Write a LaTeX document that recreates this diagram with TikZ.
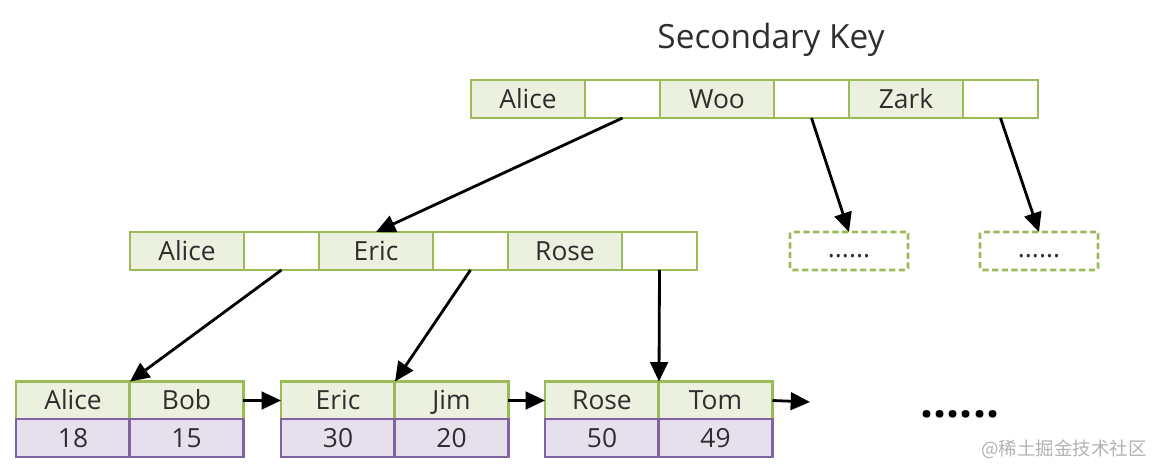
\documentclass[tikz,border=0pt]{standalone}
\usepackage{fontspec}
\setmainfont{Open Sans}
\newfontfamily\cjk{Noto Sans CJK SC}
\usepackage{tikz}
\usetikzlibrary{arrows.meta}

\definecolor{keyline}{HTML}{9BBB59}
\definecolor{keyfill}{HTML}{EBF1DE}
\definecolor{valline}{HTML}{8064A2}
\definecolor{valfill}{HTML}{E6E0EC}
\definecolor{inktext}{HTML}{2E2E2E}

\tikzset{
  cell/.style={rectangle, line width=1.6pt, inner sep=0pt, outer sep=0pt,
    minimum height=0.76cm, text height=10.7pt, text depth=0pt,
    text=inktext, font=\fontsize{15}{15}\selectfont},
  keycell/.style={cell, draw=keyline, fill=keyfill, minimum width=2.28cm},
  ptrcell/.style={cell, draw=keyline, fill=white, minimum width=1.5cm},
  valcell/.style={cell, draw=valline, fill=valfill, minimum width=2.28cm},
  morebox/.style={cell, draw=keyline, dashed, dash pattern=on 3.5pt off 2pt,
    line width=1.5pt, rounded corners=1pt, minimum width=2.36cm, text height=7pt},
  link/.style={-{Triangle[length=11pt,width=10pt]}, line width=1.6pt, black}
}

\begin{document}
\begin{tikzpicture}[x=0.02cm, y=-0.02cm]
\useasboundingbox (0,0) rectangle (1153,465);

%================ TITLE ==================
\node[text=inktext, font=\fontsize{19}{19}\selectfont] (title) at (771,40) {Secondary Key};

%================ ROOT ==================
\node[keycell] (rA)  at (528,99)    {Alice};
\node[ptrcell] (rAp) at (622.5,99)  {};
\node[keycell] (rW)  at (717,99)    {Woo};
\node[ptrcell] (rWp) at (811.5,99)  {};
\node[keycell] (rZ)  at (906,99)    {Zark};
\node[ptrcell] (rZp) at (1000.5,99) {};

%================ INNER ==================
\node[keycell] (iA)  at (187,251)   {Alice};
\node[ptrcell] (iAp) at (281.5,251) {};
\node[keycell] (iE)  at (376,251)   {Eric};
\node[ptrcell] (iEp) at (470.5,251) {};
\node[keycell] (iR)  at (565,251)   {Rose};
\node[ptrcell] (iRp) at (659.5,251) {};

% elided subtrees
\node[morebox] (moreW) at (849,251)  {......};
\node[morebox] (moreZ) at (1039,251) {......};

%================ LEAVES ==================
\node[keycell] (lAlice) at (73,400.5)  {Alice};
\node[keycell] (lBob)   at (186.5,400.5) {Bob};
\node[valcell] (vAlice) at (73,438)    {18};
\node[valcell] (vBob)   at (186.5,438) {15};

\node[keycell] (lEric)  at (338,400.5)   {Eric};
\node[keycell] (lJim)   at (451.5,400.5) {Jim};
\node[valcell] (vEric)  at (338,438)     {30};
\node[valcell] (vJim)   at (451.5,438)   {20};

\node[keycell] (lRose)  at (602,400.5)   {Rose};
\node[keycell] (lTom)   at (715.5,400.5) {Tom};
\node[valcell] (vRose)  at (602,438)     {50};
\node[valcell] (vTom)   at (715.5,438)   {49};

\coordinate (lnext) at (810,402);
\node[font=\fontsize{26}{26}\selectfont\bfseries] (dots) at (960,414) {......};

%================ ARROWS ==================
\draw[link] (rAp.south) -- (iE.north);
\draw[link] (rWp.south) -- (moreW.north);
\draw[link] (rZp.south) -- (moreZ.north);

\draw[link] (iAp.south) -- (lAlice.north east);
\draw[link] (iEp.south) -- (lEric.north east);
\draw[link] (iRp.south) -- (lRose.north east);

\draw[link] (lBob.east) -- (lEric.west);
\draw[link] (lJim.east) -- (lRose.west);
\draw[link] (lTom.east) -- (lnext);

% watermark
\node[text=black!30, font=\cjk\fontsize{10.5}{11}\selectfont] (mark) at (1064,449) {@稀土掘金技术社区};

\end{tikzpicture}
\end{document}
